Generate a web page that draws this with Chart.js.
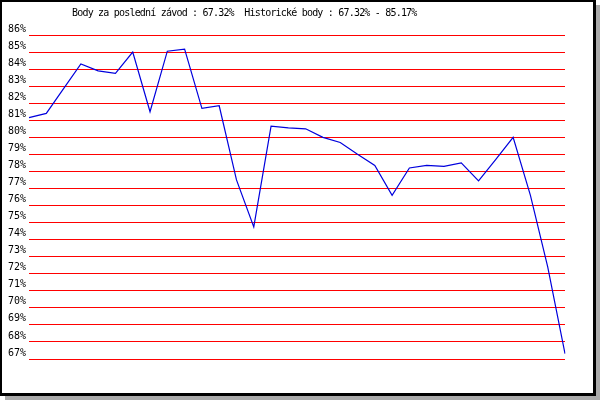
<!DOCTYPE html>
<html>
<head>
<meta charset="utf-8">
<script src="https://cdn.jsdelivr.net/npm/chart.js@4"></script>
<style>
  html, body { margin: 0; padding: 0; background: #fff; }
  canvas { display: block; }
</style>
</head>
<body>
<canvas id="chart" width="600" height="400"></canvas>
<script>
// races (x categories, not shown) and points per race in %
var races = [1, 2, 3, 4, 5, 6, 7, 8, 9, 10, 11, 12, 13, 14, 15, 16,
             17, 18, 19, 20, 21, 22, 23, 24, 25, 26, 27, 28, 29, 30, 31, 32];
var points = [81.15, 81.4, 82.85, 84.3, 83.9, 83.75, 85.0, 81.5,
              85.05, 85.17, 81.7, 81.85, 77.5, 74.75, 80.65, 80.55,
              80.5, 80.0, 79.7, 79.0, 78.35, 76.6, 78.2, 78.35,
              78.3, 78.5, 77.45, 78.7, 80.0, 76.6, 72.4, 67.32];
var yMin = 67, yMax = 86;
var titleText = 'Body za poslední závod : 67.32%  Historické body : 67.32% - 85.17%';

var monoFont = '"DejaVu Sans Mono", "Liberation Mono", monospace';

// black frame with grey drop shadow
var framePlugin = {
    id: 'frame',
    beforeDraw: function (chart) {
        var ctx = chart.ctx;
        ctx.save();
        ctx.fillStyle = '#aaaaaa';
        ctx.fillRect(5, 5, 595, 395);
        ctx.fillStyle = '#000000';
        ctx.fillRect(0, 0, 596, 396);
        ctx.fillStyle = '#ffffff';
        ctx.fillRect(2, 2, 591, 391);
        ctx.restore();
    }
};

var titlePlugin = {
    id: 'topTitle',
    afterDraw: function (chart) {
        var ctx = chart.ctx;
        ctx.save();
        ctx.font = '10px ' + monoFont;
        ctx.letterSpacing = '-0.8px';
        ctx.fillStyle = '#000';
        ctx.textAlign = 'left';
        ctx.textBaseline = 'middle';
        ctx.fillText(titleText, 72, 13.5);
        ctx.restore();
    }
};

new Chart(document.getElementById('chart').getContext('2d'), {
    type: 'line',
    data: {
        labels: races,
        datasets: [{
            data: points,
            borderColor: '#0000dd',
            borderWidth: 1.2,
            pointRadius: 0,
            tension: 0,
            fill: false
        }]
    },
    options: {
        responsive: false,
        animation: false,
        devicePixelRatio: 1,
        layout: { padding: { left: 8, top: 35, right: 35, bottom: 41 } },
        plugins: {
            legend: { display: false },
            tooltip: { enabled: false }
        },
        scales: {
            x: { display: false, offset: false },
            y: {
                min: yMin,
                max: yMax,
                afterFit: function (scale) { scale.width = 21; },
                grid: { color: '#ff0000', lineWidth: 1, drawTicks: false },
                border: { display: false },
                ticks: {
                    stepSize: 1,
                    crossAlign: 'far',
                    labelOffset: -6,
                    color: '#000',
                    font: { family: monoFont, size: 10 },
                    callback: function (v) { return v + '%'; }
                }
            }
        }
    },
    plugins: [framePlugin, titlePlugin]
});
</script>
</body>
</html>
